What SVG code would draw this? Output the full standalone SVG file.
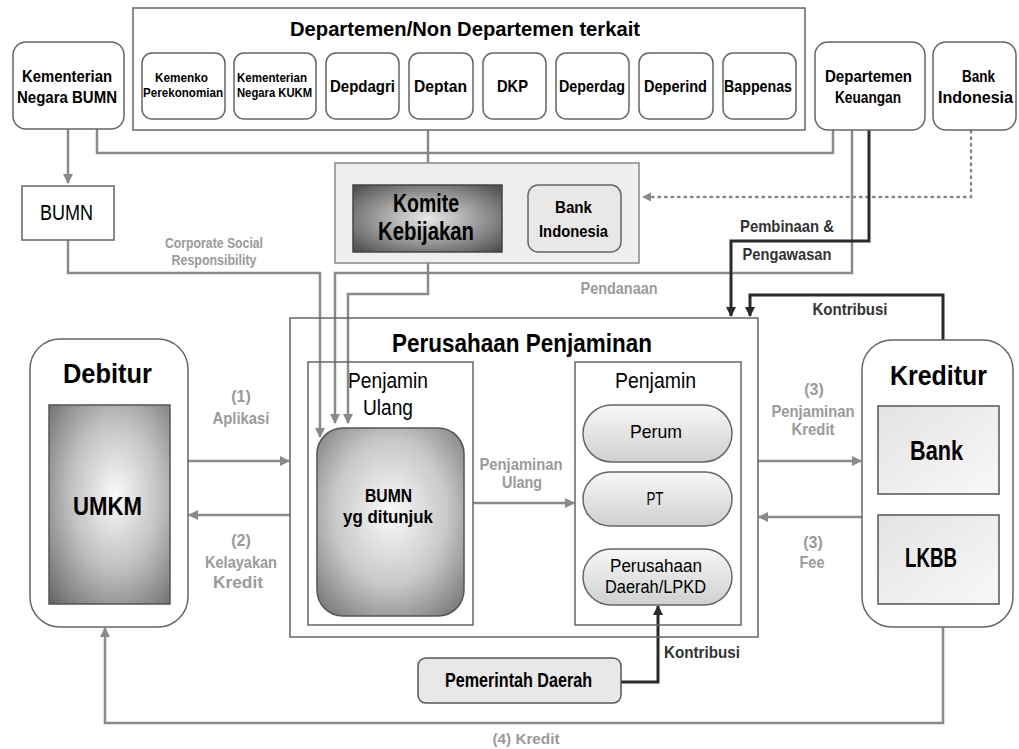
<svg xmlns="http://www.w3.org/2000/svg" width="1019" height="749" viewBox="0 0 1019 749">
<defs>
<style>
.t{font-family:"Liberation Sans",Arial,sans-serif;text-anchor:middle}
.b{font-weight:bold}
.box{fill:#fff;stroke:#666;stroke-width:1.5}
.gl{fill:none;stroke:#8a8a8a;stroke-width:2.5}
.bl{fill:none;stroke:#2a2a2a;stroke-width:3}
.dl{fill:none;stroke:#888;stroke-width:2.5;stroke-dasharray:1.5 5;stroke-linecap:round}
.lab{fill:#9a9a9a;font-weight:bold}
.dk{fill:#333;font-weight:bold}
</style>
<marker id="ag" viewBox="0 0 10 10" refX="9" refY="5" markerWidth="4" markerHeight="4" orient="auto" markerUnits="strokeWidth"><path d="M0,0L10,5L0,10z" fill="#8a8a8a"/></marker>
<marker id="ab" viewBox="0 0 10 10" refX="9" refY="5" markerWidth="3.5" markerHeight="4" orient="auto" markerUnits="strokeWidth"><path d="M0,0L10,5L0,10z" fill="#2a2a2a"/></marker>
<radialGradient id="gk" cx="0.5" cy="0.5" r="0.7"><stop offset="0" stop-color="#e8e8e8"/><stop offset="0.5" stop-color="#9a9a9a"/><stop offset="1" stop-color="#4a4a4a"/></radialGradient>
<radialGradient id="gu" cx="0.55" cy="0.45" r="0.75"><stop offset="0" stop-color="#fafafa"/><stop offset="0.5" stop-color="#c0c0c0"/><stop offset="1" stop-color="#6a6a6a"/></radialGradient>
<radialGradient id="gb" cx="0.5" cy="0.45" r="0.7"><stop offset="0" stop-color="#fafafa"/><stop offset="0.55" stop-color="#c8c8c8"/><stop offset="1" stop-color="#777"/></radialGradient>
<linearGradient id="gp" x1="0" y1="0" x2="0" y2="1"><stop offset="0" stop-color="#f7f7f7"/><stop offset="1" stop-color="#d0d0d0"/></linearGradient>
<linearGradient id="gbk" x1="0" y1="0" x2="1" y2="1"><stop offset="0" stop-color="#e3e3e3"/><stop offset="1" stop-color="#f8f8f8"/></linearGradient>
</defs>
<rect width="1019" height="749" fill="#fff"/>

<g id="connectors">
<path class="gl" d="M68,129V183" marker-end="url(#ag)"/>
<path class="gl" d="M97,129V153H833V130"/>
<path class="gl" d="M428,130V182" marker-end="url(#ag)"/>
<path class="gl" d="M68,240V273H320V437" marker-end="url(#ag)"/>
<path class="gl" d="M852,130V273H335V423" marker-end="url(#ag)"/>
<path class="gl" d="M428,252V294H348V423" marker-end="url(#ag)"/>
<path class="dl" d="M971,131V197H650"/>
<path d="M642,197L651,192.5V201.5z" fill="#8a8a8a"/>
<path class="bl" d="M869,130V241H731V316" marker-end="url(#ab)"/>
<path class="bl" d="M943,340V295H750V316" marker-end="url(#ab)"/>
<path class="gl" d="M188,461H289" marker-end="url(#ag)"/>
<path class="gl" d="M290,515H189" marker-end="url(#ag)"/>
<path class="gl" d="M473,503H574" marker-end="url(#ag)"/>
<path class="gl" d="M758,461H861" marker-end="url(#ag)"/>
<path class="gl" d="M862,517H759" marker-end="url(#ag)"/>
<path class="bl" d="M621,682H658V606" marker-end="url(#ab)"/>
<path class="gl" d="M943,627V723H105V628" marker-end="url(#ag)"/>
</g>

<g id="labels">
<text class="t lab" font-size="15" x="214" y="248" textLength="98" lengthAdjust="spacingAndGlyphs">Corporate Social</text>
<text class="t lab" font-size="15" x="214" y="265" textLength="85" lengthAdjust="spacingAndGlyphs">Responsibility</text>
<text class="t lab" font-size="16" x="619" y="294" textLength="77" lengthAdjust="spacingAndGlyphs">Pendanaan</text>
<text class="t dk" font-size="17" x="787" y="232" textLength="94" lengthAdjust="spacingAndGlyphs">Pembinaan &amp;</text>
<text class="t dk" font-size="17" x="787" y="260" textLength="89" lengthAdjust="spacingAndGlyphs">Pengawasan</text>
<text class="t dk" font-size="16" x="850" y="315" textLength="75" lengthAdjust="spacingAndGlyphs">Kontribusi</text>
<text class="t lab" font-size="16" x="241" y="402">(1)</text>
<text class="t lab" font-size="16" x="241" y="424" textLength="57" lengthAdjust="spacingAndGlyphs">Aplikasi</text>
<text class="t lab" font-size="16" x="241" y="546">(2)</text>
<text class="t lab" font-size="16" x="241" y="568" textLength="72" lengthAdjust="spacingAndGlyphs">Kelayakan</text>
<text class="t lab" font-size="16" x="238" y="588" textLength="50" lengthAdjust="spacingAndGlyphs">Kredit</text>
<text class="t lab" font-size="16" x="521" y="470" textLength="83" lengthAdjust="spacingAndGlyphs">Penjaminan</text>
<text class="t lab" font-size="16" x="522" y="488" textLength="40" lengthAdjust="spacingAndGlyphs">Ulang</text>
<text class="t lab" font-size="16" x="814" y="395">(3)</text>
<text class="t lab" font-size="16" x="813" y="417" textLength="83" lengthAdjust="spacingAndGlyphs">Penjaminan</text>
<text class="t lab" font-size="16" x="813" y="435" textLength="43" lengthAdjust="spacingAndGlyphs">Kredit</text>
<text class="t lab" font-size="16" x="813" y="548">(3)</text>
<text class="t lab" font-size="16" x="812" y="568" textLength="25" lengthAdjust="spacingAndGlyphs">Fee</text>
<text class="t dk" font-size="16" x="702" y="658" textLength="76" lengthAdjust="spacingAndGlyphs">Kontribusi</text>
<text class="t lab" font-size="15" x="526" y="744" textLength="67" lengthAdjust="spacingAndGlyphs">(4) Kredit</text>
</g>

<g id="dept-group">
<rect class="box" x="133" y="8" width="672" height="122"/>
<text class="t b" font-size="20" x="465" y="36" textLength="350" lengthAdjust="spacingAndGlyphs">Departemen/Non Departemen terkait</text>
</g>
<g id="kemenko"><rect class="box" x="142" y="53" width="83" height="66" rx="10"/><text class="t b" font-size="13" x="181.5" y="82" textLength="53" lengthAdjust="spacingAndGlyphs">Kemenko</text><text class="t b" font-size="13" x="183" y="97" textLength="80" lengthAdjust="spacingAndGlyphs">Perekonomian</text></g>
<g id="kukm"><rect class="box" x="234" y="53" width="82" height="66" rx="10"/><text class="t b" font-size="13" x="272" y="82" textLength="70" lengthAdjust="spacingAndGlyphs">Kementerian</text><text class="t b" font-size="13" x="274.5" y="97" textLength="75" lengthAdjust="spacingAndGlyphs">Negara KUKM</text></g>
<g id="depdagri"><rect class="box" x="326" y="53" width="73" height="66" rx="10"/><text class="t b" font-size="17" x="362.5" y="92" textLength="65" lengthAdjust="spacingAndGlyphs">Depdagri</text></g>
<g id="deptan"><rect class="box" x="409" y="53" width="64" height="66" rx="10"/><text class="t b" font-size="17" x="440.5" y="92" textLength="53" lengthAdjust="spacingAndGlyphs">Deptan</text></g>
<g id="dkp"><rect class="box" x="483" y="53" width="63" height="66" rx="10"/><text class="t b" font-size="17" x="512.5" y="92" textLength="31" lengthAdjust="spacingAndGlyphs">DKP</text></g>
<g id="deperdag"><rect class="box" x="556" y="53" width="73" height="66" rx="10"/><text class="t b" font-size="17" x="592" y="92" textLength="66" lengthAdjust="spacingAndGlyphs">Deperdag</text></g>
<g id="deperind"><rect class="box" x="639" y="53" width="74" height="66" rx="10"/><text class="t b" font-size="17" x="675.5" y="92" textLength="63" lengthAdjust="spacingAndGlyphs">Deperind</text></g>
<g id="bappenas"><rect class="box" x="723" y="53" width="73" height="66" rx="10"/><text class="t b" font-size="17" x="758" y="92" textLength="68" lengthAdjust="spacingAndGlyphs">Bappenas</text></g>

<g id="kementerian-bumn"><rect class="box" x="13" y="42" width="111" height="87" rx="13"/><text class="t b" font-size="17" x="67" y="82" textLength="90" lengthAdjust="spacingAndGlyphs">Kementerian</text><text class="t b" font-size="17" x="67" y="103" textLength="100" lengthAdjust="spacingAndGlyphs">Negara BUMN</text></g>
<g id="dept-keuangan"><rect class="box" x="815" y="42" width="110" height="88" rx="13"/><text class="t b" font-size="17" x="868.5" y="82" textLength="87" lengthAdjust="spacingAndGlyphs">Departemen</text><text class="t b" font-size="17" x="868" y="103" textLength="66" lengthAdjust="spacingAndGlyphs">Keuangan</text></g>
<g id="bank-indonesia-top"><rect class="box" x="933" y="42" width="83" height="88" rx="13"/><text class="t b" font-size="17" x="978.5" y="82" textLength="33" lengthAdjust="spacingAndGlyphs">Bank</text><text class="t b" font-size="17" x="975.5" y="103" textLength="75" lengthAdjust="spacingAndGlyphs">Indonesia</text></g>

<g id="bumn"><rect class="box" x="22" y="186" width="92" height="54" fill="#fafafa"/><text class="t" font-size="22" x="66.5" y="220" textLength="53" lengthAdjust="spacingAndGlyphs">BUMN</text></g>

<g id="komite-group"><rect x="335" y="163" width="304" height="100" fill="#eeeeee" stroke="#888" stroke-width="1.5"/></g>
<g id="komite"><rect x="353" y="185" width="149" height="67" fill="url(#gk)" stroke="#444" stroke-width="1.5"/><text class="t b" font-size="25" x="426" y="212" textLength="66" lengthAdjust="spacingAndGlyphs">Komite</text><text class="t b" font-size="25" x="426" y="240" textLength="96" lengthAdjust="spacingAndGlyphs">Kebijakan</text></g>
<g id="bank-indonesia"><rect x="528" y="185" width="93" height="67" rx="10" fill="#e8e8e8" stroke="#666" stroke-width="1.5"/><text class="t b" font-size="17" x="573.5" y="213" textLength="37" lengthAdjust="spacingAndGlyphs">Bank</text><text class="t b" font-size="17" x="573.5" y="237" textLength="69" lengthAdjust="spacingAndGlyphs">Indonesia</text></g>

<g id="perusahaan-penjaminan"><rect x="290" y="318" width="468" height="319" fill="none" stroke="#666" stroke-width="1.5"/><text class="t b" font-size="25" x="522" y="352" textLength="260" lengthAdjust="spacingAndGlyphs">Perusahaan Penjaminan</text></g>
<g id="penjamin-ulang"><rect x="308" y="362" width="165" height="263" fill="none" stroke="#666" stroke-width="1.5"/><text class="t" font-size="22" x="388" y="388" textLength="80" lengthAdjust="spacingAndGlyphs">Penjamin</text><text class="t" font-size="22" x="388" y="415" textLength="50" lengthAdjust="spacingAndGlyphs">Ulang</text></g>
<g id="bumn-ditunjuk"><rect x="317" y="428" width="147" height="188" rx="26" fill="url(#gb)" stroke="#555" stroke-width="1.5"/><text class="t b" font-size="18" x="388.5" y="502" textLength="47" lengthAdjust="spacingAndGlyphs">BUMN</text><text class="t b" font-size="18" x="388" y="523" textLength="90" lengthAdjust="spacingAndGlyphs">yg ditunjuk</text></g>
<g id="penjamin"><rect x="575" y="362" width="166" height="263" fill="none" stroke="#666" stroke-width="1.5"/><text class="t" font-size="22" x="655.5" y="388" textLength="81" lengthAdjust="spacingAndGlyphs">Penjamin</text></g>
<g id="perum"><rect x="583" y="405" width="149" height="57" rx="28.5" fill="url(#gp)" stroke="#666" stroke-width="1.5"/><text class="t" font-size="19" x="656" y="438" textLength="52" lengthAdjust="spacingAndGlyphs">Perum</text></g>
<g id="pt"><rect x="583" y="472" width="149" height="54" rx="27" fill="url(#gp)" stroke="#666" stroke-width="1.5"/><text class="t" font-size="18" x="655" y="505" textLength="17" lengthAdjust="spacingAndGlyphs">PT</text></g>
<g id="lpkd"><rect x="583" y="549" width="149" height="56" rx="28" fill="url(#gp)" stroke="#666" stroke-width="1.5"/><text class="t" font-size="18" x="656" y="572" textLength="92" lengthAdjust="spacingAndGlyphs">Perusahaan</text><text class="t" font-size="18" x="655.5" y="593" textLength="101" lengthAdjust="spacingAndGlyphs">Daerah/LPKD</text></g>

<g id="debitur"><rect x="30" y="339" width="158" height="288" rx="30" fill="none" stroke="#666" stroke-width="1.5"/><text class="t b" font-size="28" x="107.5" y="383" textLength="89" lengthAdjust="spacingAndGlyphs">Debitur</text></g>
<g id="umkm"><rect x="49" y="405" width="121" height="199" fill="url(#gu)" stroke="#555" stroke-width="1.5"/><text class="t b" font-size="26" x="107.5" y="515" textLength="69" lengthAdjust="spacingAndGlyphs">UMKM</text></g>

<g id="kreditur"><rect x="862" y="340" width="151" height="287" rx="30" fill="none" stroke="#666" stroke-width="1.5"/><text class="t b" font-size="28" x="938.5" y="385" textLength="97" lengthAdjust="spacingAndGlyphs">Kreditur</text></g>
<g id="bank"><rect x="878" y="406" width="121" height="88" fill="url(#gbk)" stroke="#555" stroke-width="1.5"/><text class="t b" font-size="27" x="936.5" y="460" textLength="53" lengthAdjust="spacingAndGlyphs">Bank</text></g>
<g id="lkbb"><rect x="878" y="515" width="121" height="89" fill="url(#gbk)" stroke="#555" stroke-width="1.5"/><text class="t b" font-size="27" x="931" y="567" textLength="52" lengthAdjust="spacingAndGlyphs">LKBB</text></g>

<g id="pemerintah-daerah"><rect x="418" y="658" width="203" height="45" rx="8" fill="#e8e8e8" stroke="#555" stroke-width="1.5"/><text class="t b" font-size="20" x="518.5" y="687" textLength="147" lengthAdjust="spacingAndGlyphs">Pemerintah Daerah</text></g>
</svg>
